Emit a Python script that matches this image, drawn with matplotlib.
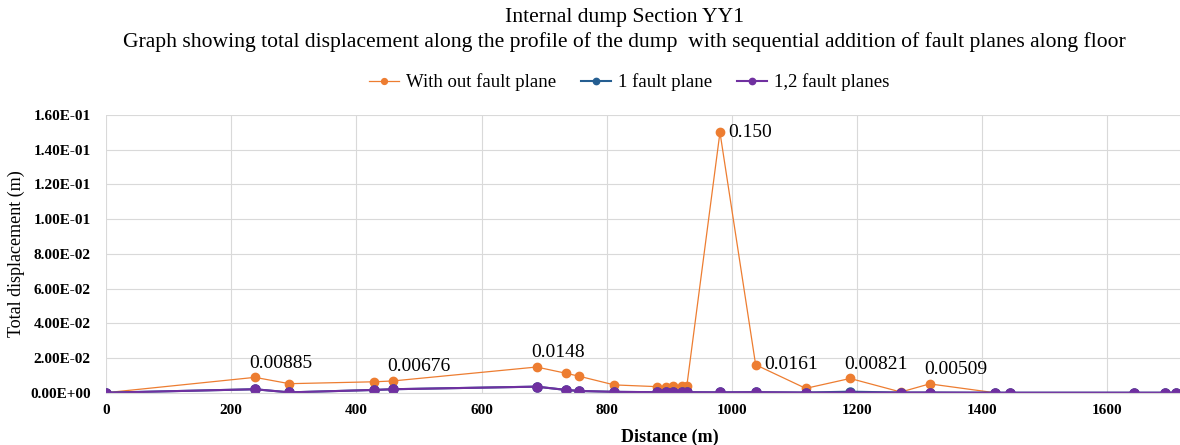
import matplotlib.pyplot as plt
from matplotlib.ticker import FuncFormatter

# Distance along the profile (m)
distance = [0, 238, 293, 429, 458, 688, 735, 756, 812, 880, 894, 906, 921, 928,
            981, 1038, 1118, 1189, 1270, 1316, 1420, 1444, 1642, 1692, 1709]

# Total displacement (m)
no_fault = [0.0, 0.00885, 0.0052, 0.0063, 0.00676, 0.0148, 0.0112, 0.0095, 0.0045,
            0.0035, 0.0035, 0.0036, 0.0036, 0.0038, 0.150, 0.0161, 0.0025, 0.00821,
            0.0004, 0.00509, 0.0, 0.0, 0.0, 0.0, 0.0]
one_fault = [0.0, 0.0020, 0.0002, 0.0016, 0.0020, 0.0035, 0.0016, 0.0010, 0.0005,
             0.0003, 0.0003, 0.0003, 0.0003, 0.0003, 0.0002, 0.0003, 0.0001, 0.0006,
             0.0001, 0.0001, 0.0, 0.0, 0.0, 0.0, 0.0]
two_faults = [0.0, 0.0020, 0.0002, 0.0016, 0.0020, 0.0035, 0.0016, 0.0010, 0.0005,
              0.0003, 0.0003, 0.0002, 0.0003, 0.0003, 0.0002, 0.0003, 0.0001, 0.0001,
              0.0001, 0.0001, 0.0, 0.0, 0.0, 0.0, 0.0]

labelled = {238: '0.00885', 458: '0.00676', 688: '0.0148', 1189: '0.00821', 1316: '0.00509'}
side_labelled = {981: '0.150', 1038: '0.0161'}

plt.rcParams['font.family'] = ['Liberation Serif', 'DejaVu Serif']

fig = plt.figure(figsize=(11.8, 4.45), dpi=100)
ax = fig.add_axes([0.0898, 0.1175, 0.9102, 0.6241])

orange = '#ED7D31'
blue = '#255E91'
purple = '#7030A0'

ax.plot(distance, no_fault, color=orange, lw=0.9, marker='o', ms=6, label='With out fault plane')
ax.plot(distance, one_fault, color=blue, lw=1.5, marker='o', ms=6.5, label='1 fault plane')
ax.plot(distance, two_faults, color=purple, lw=1.5, marker='o', ms=6.5, label='1,2 fault planes')

for x, y in zip(distance, no_fault):
    if x in labelled:
        ax.annotate(labelled[x], (x, y), xytext=(-4, 4), textcoords='offset points',
                    ha='left', va='bottom', fontsize=14)
    elif x in side_labelled:
        ax.annotate(side_labelled[x], (x, y), xytext=(6, 0), textcoords='offset points',
                    ha='left', va='center', fontsize=14)

ax.set_xlim(0, 1716)
ax.set_ylim(0, 0.16)
ax.set_xticks(range(0, 1700, 200))
ax.set_yticks([i * 0.02 for i in range(9)])
ax.yaxis.set_major_formatter(FuncFormatter(lambda v, p: f'{v:.2E}'))
for lab in ax.get_xticklabels() + ax.get_yticklabels():
    lab.set_fontweight('bold')
    lab.set_fontsize(11)
ax.tick_params(axis='y', length=0, pad=11)
ax.tick_params(axis='x', length=0, pad=8)
ax.grid(True, color='#d9d9d9', lw=0.8)
ax.set_axisbelow(True)
for s in ['top', 'right', 'left']:
    ax.spines[s].set_visible(False)
ax.spines['bottom'].set_color('#d9d9d9')

ax.set_xlabel('Distance (m)', fontsize=13, fontweight='bold')
ax.xaxis.set_label_coords(0.525, -0.13)
ax.set_ylabel('Total displacement (m)', fontsize=13)
ax.yaxis.set_label_coords(-0.075, 0.5)

fig.text(0.529, 0.96, 'Internal dump Section YY1', ha='center', va='center', fontsize=15.6)
fig.text(0.529, 0.905, 'Graph showing total displacement along the profile of the dump  with '
         'sequential addition of fault planes along floor', ha='center', va='center', fontsize=15.6)
fig.legend(loc='center', bbox_to_anchor=(0.533, 0.815), ncol=3, frameon=False, fontsize=13.5,
           handlelength=1.6, handletextpad=0.4, columnspacing=1.3, markerscale=0.7)

fig.savefig('out.png', dpi=100)
